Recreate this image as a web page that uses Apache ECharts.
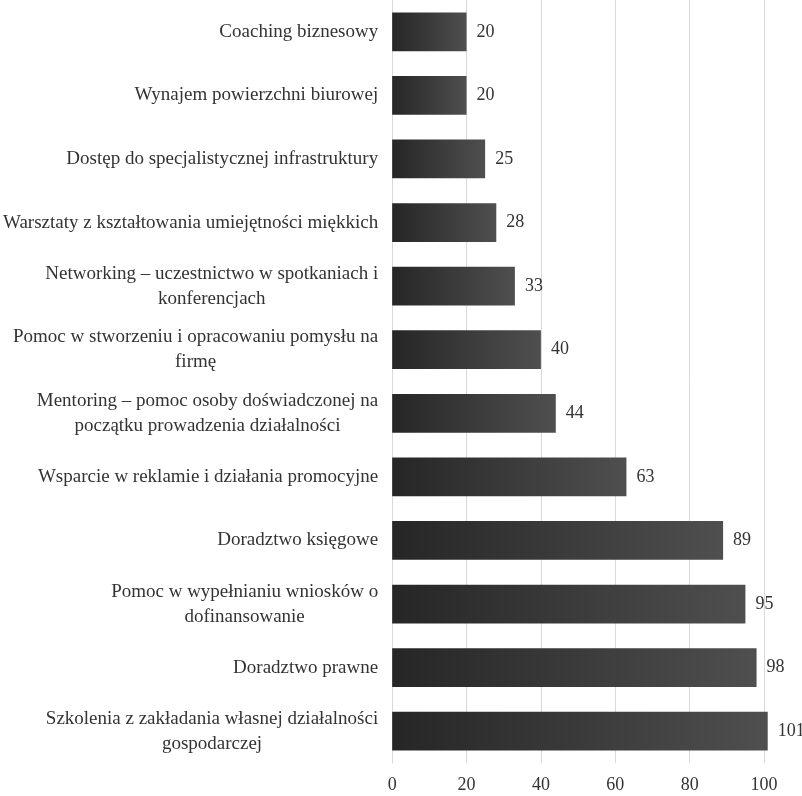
<!DOCTYPE html>
<html>
<head>
<meta charset="utf-8">
<script src="https://cdn.jsdelivr.net/npm/echarts@6/dist/echarts.min.js"></script>
<style>
  html, body { margin: 0; padding: 0; background: #fff; }
  #chart { width: 802px; height: 796px; }
</style>
</head>
<body>
<div id="chart"></div>
<script>
// Forms of support, listed top to bottom
const categories = [
  'Coaching biznesowy',
  'Wynajem powierzchni biurowej',
  'Dostęp do specjalistycznej infrastruktury',
  'Warsztaty z kształtowania umiejętności miękkich',
  'Networking – uczestnictwo w spotkaniach i\nkonferencjach',
  'Pomoc w stworzeniu i opracowaniu pomysłu na\nfirmę',
  'Mentoring – pomoc osoby doświadczonej na\npoczątku prowadzenia działalności',
  'Wsparcie w reklamie i działania promocyjne',
  'Doradztwo księgowe',
  'Pomoc w wypełnianiu wniosków o\ndofinansowanie',
  'Doradztwo prawne',
  'Szkolenia z zakładania własnej działalności\ngospodarczej'
];

// Number of responses per category
const counts = [20, 20, 25, 28, 33, 40, 44, 63, 89, 95, 98, 101];

// Value axis ticks
const axisMin = 0;
const axisMax = 100;
const axisStep = 20;

const FONT = '"Liberation Serif", "Times New Roman", serif';
const TEXT = '#333333';

const chart = echarts.init(document.getElementById('chart'), null, { renderer: 'canvas' });

chart.setOption({
  animation: false,
  backgroundColor: '#ffffff',
  grid: { left: 392, right: 38, top: -2, bottom: 33, containLabel: false },
  xAxis: {
    type: 'value',
    min: axisMin,
    max: axisMax,
    interval: axisStep,
    axisLine: { show: false },
    axisTick: { show: false },
    splitLine: { show: true, lineStyle: { color: '#d9d9d9', width: 1 } },
    axisLabel: { color: TEXT, fontFamily: FONT, fontSize: 18, margin: 13 }
  },
  yAxis: {
    type: 'category',
    inverse: true,
    data: categories,
    axisLine: { show: true, lineStyle: { color: '#d9d9d9', width: 1 } },
    axisTick: { show: false },
    axisLabel: {
      margin: 14,
      color: TEXT,
      fontFamily: FONT,
      fontSize: 19,
      lineHeight: 25,
      // centre each wrapped line inside the right-aligned label block
      formatter: v => v.split('\n').map(l => '{c|' + l + '}').join('\n'),
      rich: {
        c: { align: 'center', color: TEXT, fontFamily: FONT, fontSize: 19, lineHeight: 25 }
      }
    }
  },
  series: [{
    type: 'bar',
    data: counts,
    clip: false,
    barCategoryGap: '39%',
    itemStyle: {
      color: new echarts.graphic.LinearGradient(0, 0, 1, 0, [
        { offset: 0, color: '#262626' },
        { offset: 1, color: '#4f4f4f' }
      ])
    },
    label: {
      show: true,
      position: 'right',
      distance: 10,
      color: TEXT,
      fontFamily: FONT,
      fontSize: 18
    }
  }]
});
</script>
</body>
</html>
